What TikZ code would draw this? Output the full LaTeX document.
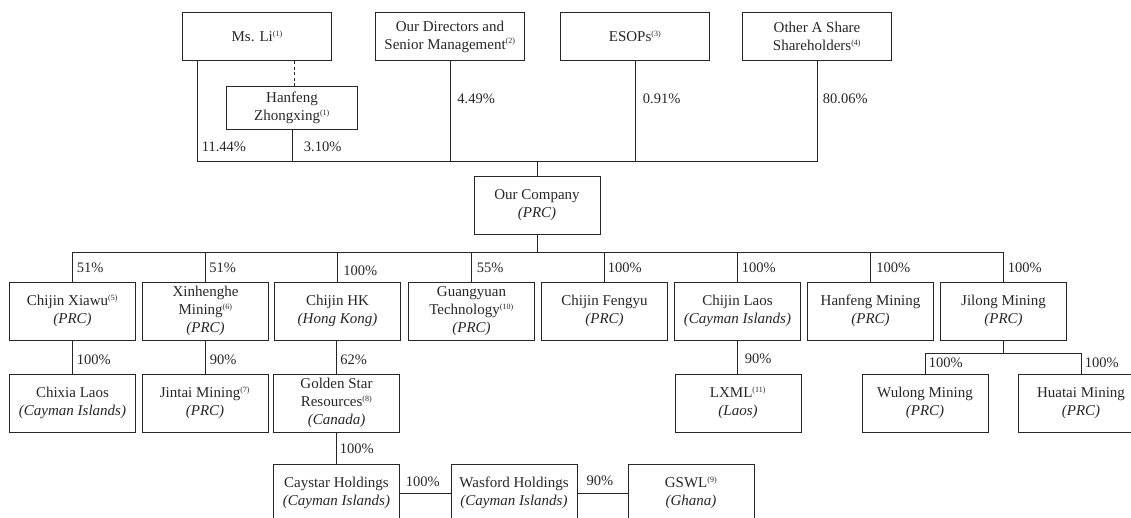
\documentclass[tikz,border=0pt]{standalone}
\usepackage{fontspec}
\setmainfont{Liberation Serif}
\newcommand\fnref[1]{\textsuperscript{\fontsize{8}{8}\selectfont(#1)}}
\definecolor{ink}{rgb}{0.15,0.15,0.15}
\begin{document}
\begin{tikzpicture}[x=1pt,y=-1pt, color=ink, line width=0.8pt,
  box/.style={draw, line width=0.9pt, minimum width=126pt, minimum height=58pt,
    align=center, inner sep=0pt, font=\fontsize{15}{18}\selectfont},
  topbox/.style={box, minimum width=149pt, minimum height=48.5pt},
  pct/.style={anchor=west, inner sep=0pt, font=\fontsize{14.5}{17}\selectfont}]
\useasboundingbox (0,0) rectangle (1131,518);
\clip (0,0) rectangle (1131,518);
% top owners
\node[topbox] (msli) at (257.2,36.5) {Ms. Li\fnref{1}};
\node[topbox] (dir) at (450,36.5) {Our Directors and\\Senior Management\fnref{2}};
\node[topbox] (esop) at (635,36.5) {ESOPs\fnref{3}};
\node[topbox] (other) at (817,36.5) {Other A Share\\Shareholders\fnref{4}};
\node[box, minimum width=130.6pt, minimum height=42.6pt] (hz) at (292,108) {Hanfeng\\Zhongxing\fnref{1}};
\node[box] (co) at (537,205.5) {Our Company\\\textit{(PRC)}};
% row 2
\node[box] (xiawu) at (72.5,311) {Chijin Xiawu\fnref{5}\\\textit{(PRC)}};
\node[box] (xin) at (205.5,311) {Xinhenghe\\Mining\fnref{6}\\\textit{(PRC)}};
\node[box] (hk) at (337.5,311) {Chijin HK\\\textit{(Hong Kong)}};
\node[box] (guang) at (471.5,311) {Guangyuan\\Technology\fnref{10}\\\textit{(PRC)}};
\node[box] (feng) at (604.5,311) {Chijin Fengyu\\\textit{(PRC)}};
\node[box] (laos) at (737.5,311) {Chijin Laos\\\textit{(Cayman Islands)}};
\node[box] (hfm) at (870.5,311) {Hanfeng Mining\\\textit{(PRC)}};
\node[box] (jilong) at (1003.5,311) {Jilong Mining\\\textit{(PRC)}};
% row 3
\node[box] (chixia) at (72.5,403) {Chixia Laos\\\textit{(Cayman Islands)}};
\node[box] (jintai) at (205,403) {Jintai Mining\fnref{7}\\\textit{(PRC)}};
\node[box] (gsr) at (336.5,403) {Golden Star\\Resources\fnref{8}\\\textit{(Canada)}};
\node[box] (lxml) at (738,403) {LXML\fnref{11}\\\textit{(Laos)}};
\node[box] (wulong) at (925,403) {Wulong Mining\\\textit{(PRC)}};
\node[box] (huatai) at (1081,403) {Huatai Mining\\\textit{(PRC)}};
% row 4
\node[box] (caystar) at (336.5,493) {Caystar Holdings\\\textit{(Cayman Islands)}};
\node[box] (wasford) at (514,493) {Wasford Holdings\\\textit{(Cayman Islands)}};
\node[box] (gswl) at (691,493) {GSWL\fnref{9}\\\textit{(Ghana)}};
% junction coordinates
\coordinate (busL) at (197.7,161);
\coordinate (bus2) at (0,252.5);
\coordinate (jb) at (0,353.5);
\coordinate (dashx) at (294,0);
% top connectors
\draw[dashed, dash pattern=on 3pt off 2.5pt] (msli.south -| dashx) -- (hz.north -| dashx);
\draw (msli.south -| busL) -- (busL) -- (busL -| other.south) -- (other.south);
\draw (hz.south) -- (hz.south |- busL);
\draw (dir.south) -- (dir.south |- busL);
\draw (esop.south) -- (esop.south |- busL);
\draw (co.north) -- (co.north |- busL);
% company to subsidiaries
\draw (co.south) -- (co.south |- bus2);
\draw (xiawu.north) -- (xiawu.north |- bus2) -- (bus2 -| jilong.north) -- (jilong.north);
\draw (xin.north) -- (xin.north |- bus2);
\draw (hk.north) -- (hk.north |- bus2);
\draw (guang.north) -- (guang.north |- bus2);
\draw (feng.north) -- (feng.north |- bus2);
\draw (laos.north) -- (laos.north |- bus2);
\draw (hfm.north) -- (hfm.north |- bus2);
% row 2 to row 3
\draw (xiawu.south) -- (chixia.north);
\draw (xin.south) -- (jintai.north -| xin.south);
\draw (hk.south -| gsr.north) -- (gsr.north);
\draw (laos.south) -- (laos.south |- lxml.north);
\draw (jilong.south) -- (jilong.south |- jb);
\draw (wulong.north) -- (wulong.north |- jb) -- (jb -| huatai.north) -- (huatai.north);
% row 3 to row 4
\draw (gsr.south) -- (caystar.north);
\draw (caystar.east) -- (wasford.west);
\draw (wasford.east) -- (gswl.west);
% percentages
\node[pct] (p1) at (201.5,146.7) {11.44\%};
\node[pct] (p2) at (303.5,146.7) {3.10\%};
\node[pct] (p3) at (457,98.5) {4.49\%};
\node[pct] (p4) at (642.5,98.5) {0.91\%};
\node[pct] (p5) at (822.5,98.5) {80.06\%};
\node[pct] (q1) at (76.5,267.5) {51\%};
\node[pct] (q2) at (209,267.5) {51\%};
\node[pct] (q3) at (343,270.5) {100\%};
\node[pct] (q4) at (476.5,267.5) {55\%};
\node[pct] (q5) at (607.5,267.5) {100\%};
\node[pct] (q6) at (741.5,267.5) {100\%};
\node[pct] (q7) at (876,267.5) {100\%};
\node[pct] (q8) at (1007.5,267.5) {100\%};
\node[pct] (r1) at (76.5,360) {100\%};
\node[pct] (r2) at (209.5,360) {90\%};
\node[pct] (r3) at (340,360) {62\%};
\node[pct] (r4) at (744.5,359) {90\%};
\node[pct] (r5) at (928.5,363) {100\%};
\node[pct] (r6) at (1084.5,363) {100\%};
\node[pct] (s1) at (339.5,448.7) {100\%};
\node[pct, anchor=center] (s2) at (422.7,481.7) {100\%};
\node[pct, anchor=center] (s3) at (600,481) {90\%};
\end{tikzpicture}
\end{document}
